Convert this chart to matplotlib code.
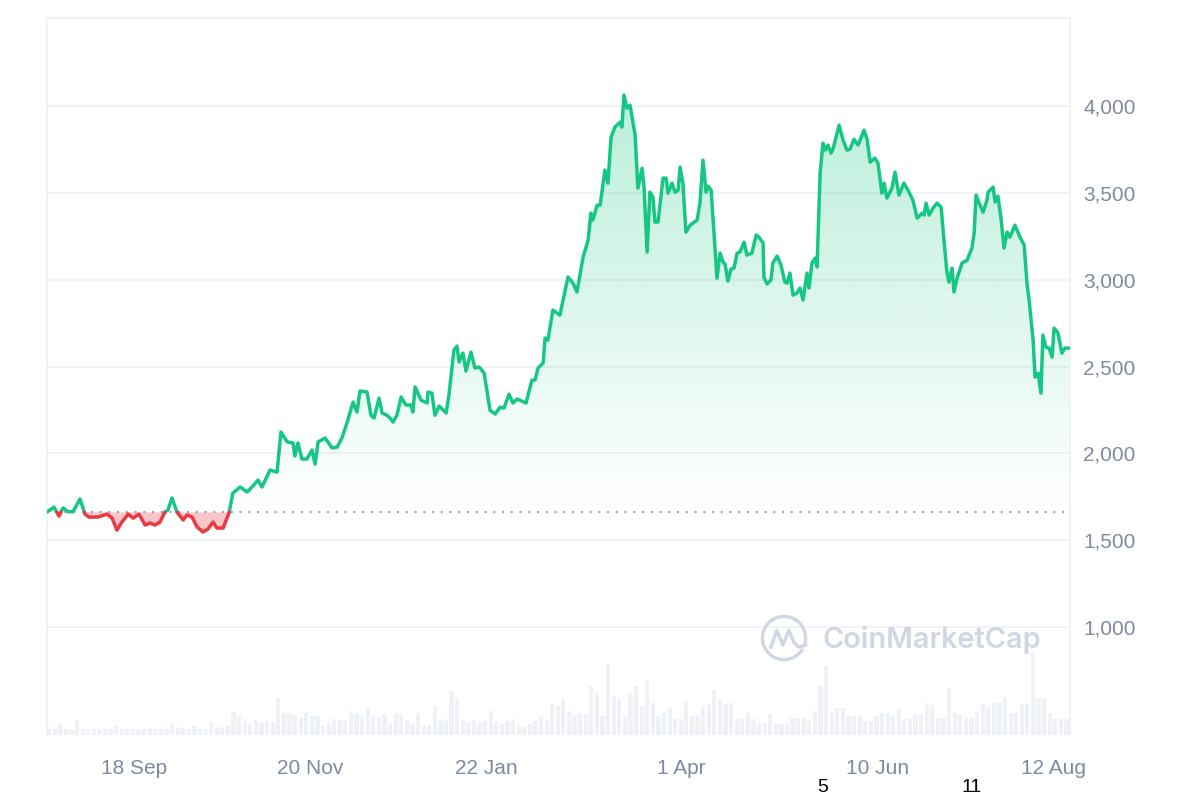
import numpy as np
import pandas as pd
import matplotlib
matplotlib.use("Agg")
import matplotlib.pyplot as plt
from matplotlib.colors import to_rgb
from matplotlib.patches import Polygon, Arc
from matplotlib.ticker import FuncFormatter

# days since 18 Aug 2023 and the price (USD)
price_day = [
    0, 2.5, 4.3, 5.7, 7.5, 9.3, 11.8, 13.6, 15.0, 18.2,
    21.5, 23.3, 25.0, 26.8, 29.0, 30.8, 32.9, 35.1, 36.9, 38.6,
    40.4, 42.2, 43.3, 44.7, 46.5, 48.7, 50.1, 51.9, 53.7, 55.8,
    57.6, 59.4, 60.8, 63.0, 65.1, 66.5, 69.1, 71.6, 73.7, 75.5,
    76.9, 79.8, 82.3, 83.7, 85.9, 88.0, 88.7, 89.8, 91.2, 93.0,
    94.8, 95.9, 97.0, 99.5, 102.0, 103.8, 105.5, 107.3, 109.5, 110.9,
    112.0, 114.5, 115.9, 117.0, 118.8, 119.9, 121.6, 122.7, 123.8, 125.2,
    126.7, 128.4, 130.2, 130.9, 131.7, 133.8, 136.0, 136.3, 137.7, 138.8,
    140.3, 142.8, 143.8, 145.6, 146.7, 147.4, 148.8, 149.9, 151.7, 153.1,
    154.6, 156.4, 158.5, 160.3, 162.1, 163.5, 165.3, 166.7, 168.2, 171.4,
    173.5, 174.6, 175.7, 177.5, 178.2, 179.2, 181.0, 183.5, 186.4, 188.2,
    189.6, 191.8, 193.6, 194.6, 195.3, 196.8, 197.9, 199.6, 200.7, 201.8,
    203.2, 205.0, 205.7, 206.4, 207.5, 208.6, 210.4, 211.4, 212.9, 213.6,
    214.7, 215.7, 216.8, 217.5, 218.6, 220.4, 221.5, 222.2, 223.6, 224.7,
    225.8, 226.5, 227.5, 228.6, 230.1, 231.1, 232.6, 233.6, 234.7, 235.8,
    236.5, 237.6, 239.7, 240.8, 241.9, 242.6, 243.6, 244.7, 245.8, 246.9,
    247.9, 249.4, 250.4, 252.2, 253.7, 254.7, 256.2, 256.5, 257.6, 259.0,
    259.7, 261.2, 262.6, 264.0, 264.8, 265.8, 266.9, 268.3, 269.4, 270.5,
    271.9, 272.6, 273.7, 274.8, 275.5, 276.6, 277.6, 278.4, 279.4, 280.5,
    281.2, 283.4, 284.8, 286.2, 287.3, 288.7, 290.2, 292.3, 293.4, 294.5,
    296.2, 297.3, 298.7, 299.5, 300.5, 302.3, 303.4, 304.8, 306.6, 308.4,
    309.8, 311.3, 313.1, 313.8, 314.5, 315.6, 317.0, 318.4, 319.9, 320.9,
    322.0, 322.7, 323.8, 324.5, 325.6, 327.4, 329.2, 330.9, 331.7, 332.4,
    333.5, 334.9, 336.3, 336.7, 338.5, 339.2, 340.2, 341.3, 342.4, 343.5,
    344.5, 346.3, 348.1, 349.6, 350.6, 351.3, 352.8, 353.5, 354.6, 355.6,
    356.3, 357.4, 358.5, 359.6, 360.3, 361.7, 363.1, 364.2, 365.6,
]
price = [
    1662, 1690, 1639, 1685, 1664, 1664, 1737, 1650, 1633, 1633,
    1650, 1627, 1558, 1604, 1650, 1627, 1650, 1587, 1599, 1587,
    1604, 1662, 1674, 1743, 1662, 1616, 1645, 1633, 1576, 1547,
    1564, 1604, 1570, 1570, 1656, 1771, 1806, 1777, 1812, 1846,
    1806, 1904, 1892, 2123, 2066, 2060, 1985, 2060, 1967, 1967,
    2019, 1938, 2066, 2088, 2031, 2036, 2088, 2174, 2295, 2238,
    2359, 2353, 2220, 2203, 2318, 2232, 2220, 2203, 2180, 2220,
    2324, 2278, 2278, 2238, 2382, 2307, 2290, 2353, 2347, 2220,
    2272, 2232, 2336, 2595, 2618, 2526, 2577, 2474, 2583, 2491,
    2497, 2462, 2249, 2226, 2266, 2261, 2341, 2290, 2313, 2290,
    2422, 2422, 2491, 2520, 2664, 2652, 2825, 2796, 3015, 2980,
    2929, 3130, 3228, 3383, 3343, 3429, 3429, 3631, 3556, 3821,
    3879, 3907, 3879, 4063, 3988, 4005, 3833, 3527, 3642, 3533,
    3159, 3504, 3475, 3332, 3332, 3585, 3585, 3498, 3556, 3504,
    3516, 3648, 3556, 3274, 3314, 3326, 3343, 3441, 3688, 3504,
    3539, 3516, 3009, 3153, 3101, 3090, 2992, 3061, 3067, 3153,
    3159, 3216, 3142, 3153, 3257, 3245, 3211, 3015, 2975, 2998,
    3096, 3136, 3084, 2986, 2980, 3038, 2911, 2923, 2952, 2883,
    3038, 2952, 3096, 3124, 3073, 3614, 3786, 3746, 3775, 3729,
    3752, 3890, 3804, 3746, 3752, 3809, 3775, 3861, 3809, 3677,
    3700, 3671, 3498, 3556, 3470, 3527, 3619, 3487, 3556, 3504,
    3458, 3355, 3383, 3372, 3441, 3372, 3412, 3441, 3418, 3228,
    3038, 2986, 3067, 2929, 3009, 3096, 3113, 3182, 3268, 3487,
    3441, 3389, 3458, 3504, 3533, 3447, 3481, 3355, 3182, 3274,
    3245, 3314, 3245, 3199, 2980, 2894, 2652, 2439, 2462, 2347,
    2681, 2612, 2606, 2554, 2721, 2693, 2577, 2606, 2606,
]

# 24h volume (bn USD), one bar per two days starting 18 Aug 2023
volume_bn = [
    3, 4, 5.5, 3, 2.5, 7.5, 3, 2.5, 3, 2.5,
    3.5, 3, 5, 3, 3.5, 3, 2.5, 3, 3.5, 3,
    4, 3, 5.5, 3.5, 4, 3, 4.5, 3, 2.5, 6.5,
    3.5, 4, 4.5, 11.5, 9.5, 7, 5.5, 8, 6, 7,
    6.5, 18.5, 11, 11, 10, 8.5, 11, 9.5, 9.5, 4.5,
    6, 8, 7.5, 7, 12, 11, 9.5, 13.5, 9.5, 8.5,
    10, 5.5, 10.5, 10, 7, 5.5, 11, 4.5, 5, 14.5,
    8, 7, 22, 18, 7, 6, 7.5, 6, 7, 12,
    6.5, 5.5, 7, 8, 5, 4, 5.5, 7, 9.5, 7.5,
    15.5, 14.5, 18, 12, 10, 10.5, 10.5, 24.5, 21, 9.5,
    36, 19.5, 18, 9.5, 21, 24.5, 14.5, 27.5, 16, 9.5,
    11, 13.5, 8, 8, 17, 9.5, 9.5, 13.5, 15.5, 22.5,
    17, 15.5, 16, 8, 8, 11, 8, 6, 6, 10.5,
    5.5, 5.5, 6, 8.5, 8.5, 8.5, 8, 12, 24.5, 34.5,
    11, 13.5, 13.5, 9.5, 9.5, 9.5, 7, 7, 9.5, 11,
    11, 9.5, 13, 8, 8, 10.5, 10.5, 16, 15, 8.5,
    8.5, 23.5, 11, 10, 8.5, 8.5, 12, 15.5, 14, 16,
    16, 18.5, 11, 11, 15.5, 15.5, 41, 18.5, 18.5, 11,
    8.5, 8.5, 8,
]

START = pd.Timestamp("2023-08-18")
BASELINE = 1660
tick_dates = ["2023-09-18", "2023-11-20", "2024-01-22", "2024-04-01", "2024-06-10", "2024-08-12"]
tick_labels = ["18 Sep", "20 Nov", "22 Jan", "1 Apr", "10 Jun", "12 Aug"]
y_ticks = [1000, 1500, 2000, 2500, 3000, 3500, 4000]

GREEN = "#16c784"
RED = "#ea3943"
GRID = "#eff2f5"
LABEL = "#808a9d"
TICK_FONT = ["Liberation Sans", "DejaVu Sans"]


def split_at_base(x, y, base):
    # add the points where the line crosses the baseline, so colours switch cleanly
    xs, ys = [x[0]], [y[0]]
    for i in range(1, len(x)):
        y0, y1 = y[i - 1], y[i]
        if (y0 - base) * (y1 - base) < 0:
            t = (base - y0) / (y1 - y0)
            xs.append(x[i - 1] + t * (x[i] - x[i - 1]))
            ys.append(base)
        xs.append(x[i])
        ys.append(y[i])
    return np.array(xs), np.array(ys, dtype=float)


def main():
    plt.rcParams["font.family"] = ["Inter", "DejaVu Sans"]
    fig = plt.figure(figsize=(12, 8), dpi=100)
    rect = [47 / 1200, 65 / 800, 1023 / 1200, 717 / 800]

    # volume underneath
    ax_vol = fig.add_axes(rect)
    vol_day = np.arange(len(volume_bn)) * 2
    ax_vol.bar(vol_day, volume_bn, width=1.5, color="#eef1f5", linewidth=0, align="edge")
    ax_vol.set_xlim(0, 366)
    ax_vol.set_ylim(0, 358)
    ax_vol.set_xticks([])
    ax_vol.set_yticks([])
    for s in ax_vol.spines.values():
        s.set_visible(False)

    ax = fig.add_axes(rect)
    ax.patch.set_visible(False)

    x, y = split_at_base(np.array(price_day, dtype=float), np.array(price, dtype=float), BASELINE)

    # green gradient area above the baseline
    n = 256
    rgba = np.zeros((n, 1, 4))
    rgba[..., :3] = to_rgb(GREEN)
    rgba[:, 0, 3] = np.linspace(0.0, 0.3, n)
    top = 4100
    im = ax.imshow(rgba, extent=[0, 366, BASELINE, top], origin="lower",
                   aspect="auto", interpolation="bilinear", zorder=2)
    upper = np.maximum(y, BASELINE)
    verts = list(zip(x, upper)) + [(x[-1], BASELINE), (x[0], BASELINE)]
    poly = Polygon(verts, closed=True, facecolor="none", edgecolor="none", transform=ax.transData)
    ax.add_patch(poly)
    im.set_clip_path(poly)

    # red area below the baseline
    ax.fill_between(x, y, BASELINE, where=y <= BASELINE, color=RED, alpha=0.28,
                    linewidth=0, zorder=2)

    ax.axhline(BASELINE, color="#9aa3b5", linestyle=(0, (1, 3.2)), lw=1.5, zorder=3)

    y_green = np.where(y >= BASELINE, y, np.nan)
    y_red = np.where(y <= BASELINE, y, np.nan)
    ax.plot(x, y_green, color=GREEN, lw=2.5, solid_joinstyle="round", solid_capstyle="round", zorder=4)
    ax.plot(x, y_red, color=RED, lw=2.5, solid_joinstyle="round", solid_capstyle="round", zorder=4)

    ax.set_xlim(0, 366)
    ax.set_ylim(378, 4507)

    tick_pos = [(pd.Timestamp(d) - START).days for d in tick_dates]
    ax.set_xticks(tick_pos)
    ax.set_xticklabels(tick_labels)
    ax.set_yticks(y_ticks)
    ax.yaxis.set_major_formatter(FuncFormatter(lambda v, _: f"{v:,.0f}"))
    ax.yaxis.tick_right()
    ax.tick_params(axis="y", length=0, pad=9.5, labelsize=15, labelcolor=LABEL)
    ax.tick_params(axis="x", length=0, pad=17, labelsize=15, labelcolor=LABEL)
    for lab in ax.get_xticklabels() + ax.get_yticklabels():
        lab.set_family(TICK_FONT)
    ax.grid(axis="y", color=GRID, lw=1.3)
    ax.set_axisbelow(True)

    for side in ["left", "right", "top"]:
        ax.spines[side].set_color(GRID)
        ax.spines[side].set_linewidth(1.3)
    ax.spines["bottom"].set_visible(False)

    # watermark
    fig.text(822 / 1200, 1 - 640 / 800, "CoinMarketCap", fontsize=20.8, color="#cfd6e4",
             fontweight="semibold", ha="left", va="center")
    logo = fig.add_axes([760 / 1200, 1 - 662 / 800, 48 / 1200, 48 / 800])
    logo.set_xlim(-1, 1)
    logo.set_ylim(-1, 1)
    logo.axis("off")
    logo.add_patch(Arc((0, 0), 1.8, 1.8, theta1=-20, theta2=330, color="#cfd6e4", lw=2.4))
    logo.plot([-0.55, -0.3, -0.05, 0.2, 0.42, 0.62, 0.9], [-0.38, 0.32, -0.3, 0.32, -0.2, -0.38, -0.3],
              color="#cfd6e4", lw=2.4, solid_joinstyle="round")

    # stray numbers under the axis
    fig.text(823 / 1200, 1 - 788 / 800, "5", fontsize=14, color="black", ha="center", va="center",
             family=TICK_FONT)
    fig.text(972 / 1200, 1 - 788 / 800, "11", fontsize=14, color="black", ha="center", va="center",
             family=TICK_FONT)

    fig.savefig("out.png", dpi=100)
    plt.close(fig)


if __name__ == "__main__":
    main()
